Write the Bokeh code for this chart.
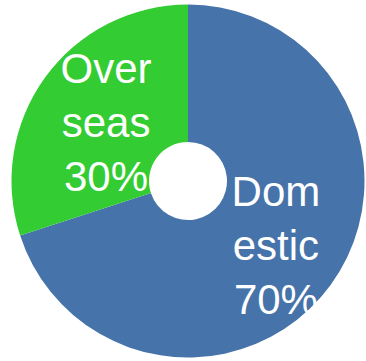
import numpy as np
from bokeh.plotting import figure
from bokeh.models import Range1d, ColumnDataSource
from bokeh.core.properties import value
from bokeh.embed import file_html
from bokeh.resources import INLINE

categories = ["Domestic", "Overseas"]
labels = ["Dom\nestic\n70%", "Over\nseas\n30%"]
shares = [70, 30]
colors = ["#4673A9", "#33CC33"]

W, H = 365, 360
cx, cy = 187.5, 360 - 180.5
R_OUT, R_IN = 176.5, 39
R_LABEL = 105
LABEL_DX, LABEL_DY = 3, -3

vals = np.array(shares, dtype=float)
frac = vals / vals.sum()
cum = np.concatenate([[0], np.cumsum(frac)])
start = np.pi / 2 - cum[:-1] * 2 * np.pi
end = np.pi / 2 - cum[1:] * 2 * np.pi
mid = (start + end) / 2

src = ColumnDataSource(dict(
    cat=categories, lab=labels, start=start, end=end, color=colors,
    x=[cx] * len(shares), y=[cy] * len(shares),
    lx=cx + LABEL_DX + R_LABEL * np.cos(mid),
    ly=cy + LABEL_DY + R_LABEL * np.sin(mid),
))

p = figure(width=W, height=H, output_backend="svg", toolbar_location=None,
           x_range=Range1d(0, W), y_range=Range1d(0, H), min_border=0)
p.axis.visible = False
p.grid.visible = False
p.outline_line_color = None
p.background_fill_color = "white"
p.border_fill_color = "white"

p.annular_wedge(x="x", y="y", inner_radius=R_IN, outer_radius=R_OUT,
                start_angle="start", end_angle="end", direction="clock",
                fill_color="color", line_color=None, source=src)

p.text(x="lx", y="ly", text="lab", source=src, text_color="white",
       text_font=value("Liberation Sans"), text_font_size="42px",
       text_align="center", text_baseline="middle", text_line_height=1.15)

open("out.html", "w").write(file_html(p, INLINE))
